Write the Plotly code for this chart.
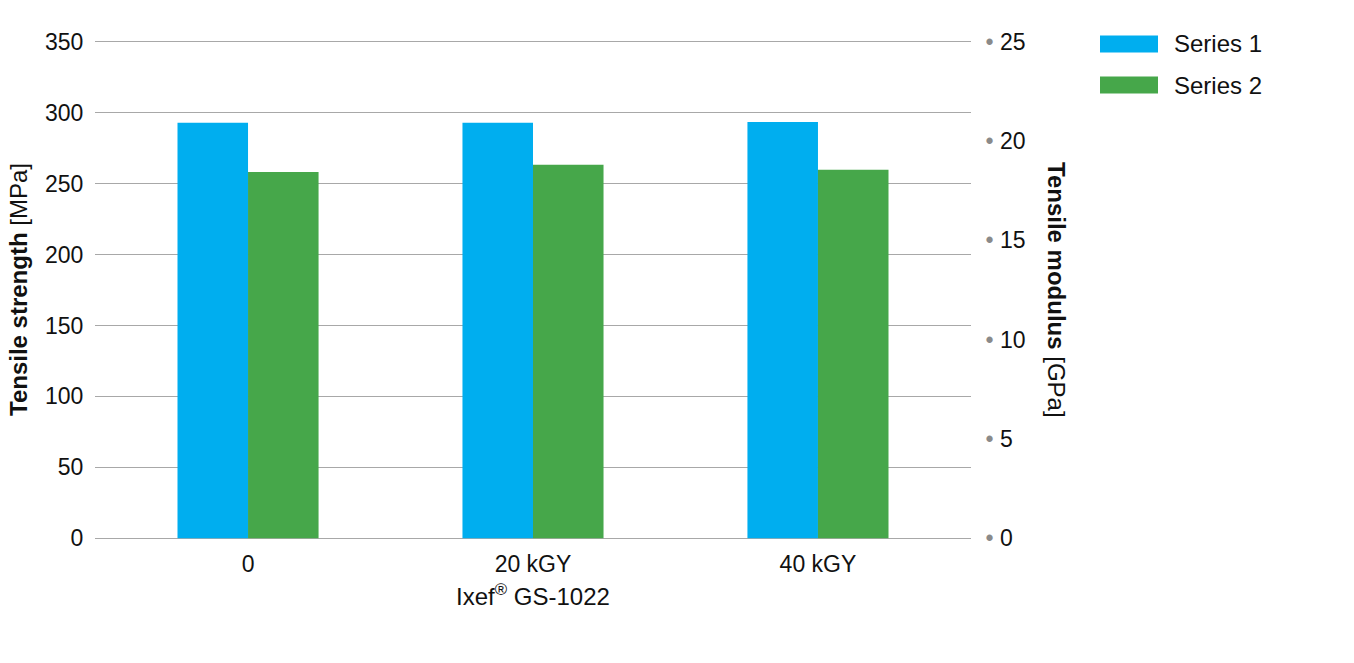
import plotly.graph_objects as go

# Data
categories = ["0", "20 kGY", "40 kGY"]
strength_mpa = [292.9, 292.9, 293.4]   # Series 1, left axis
modulus_gpa = [18.44, 18.81, 18.56]    # Series 2, right axis
series_names = ["Series 1", "Series 2"]
left_ticks = [0, 50, 100, 150, 200, 250, 300, 350]
right_ticks = [0, 5, 10, 15, 20, 25]

colors = ["#00AEEF", "#46A74A"]
font_family = "Liberation Sans, Arial, sans-serif"

# left axis in MPa, right axis in GPa: 350 MPa lines up with 25 GPa
# a little padding so the 0 and 350 grid lines are still drawn
y_range = [-2, 352]
ratio = 25 / 350
y2_range = [v * ratio for v in y_range]

# plot area (page pixels, the page body adds 8px)
plot_top, plot_h = 39, 502
plot_left, plot_w = 95, 876


def px(x):
    return (x - plot_left) / plot_w


def py(y):
    return (plot_top + plot_h - y) / plot_h


fig = go.Figure()
fig.add_trace(go.Bar(x=categories, y=strength_mpa, name=series_names[0],
                     marker_color=colors[0], marker_line_width=0,
                     offsetgroup="1", yaxis="y", showlegend=False))
fig.add_trace(go.Bar(x=categories, y=modulus_gpa, name=series_names[1],
                     marker_color=colors[1], marker_line_width=0,
                     offsetgroup="2", yaxis="y2", showlegend=False))

dot = "<span style='color:#8a8a8a'>•</span> "

fig.update_layout(
    width=1354, height=663,
    margin=dict(l=plot_left - 8, r=1354 - (plot_left - 8) - plot_w,
                t=plot_top - 8, b=663 - (plot_top - 8) - plot_h),
    paper_bgcolor="white", plot_bgcolor="white",
    font=dict(family=font_family, size=22, color="#111"),
    barmode="group", bargap=0.505, bargroupgap=0,
    xaxis=dict(
        range=[-0.537, 2.537], showgrid=False, zeroline=False, showline=False,
        ticks="outside", ticklen=2, tickcolor="rgba(0,0,0,0)",
        tickfont=dict(size=23),
        title=dict(text="Ixef<sup>®</sup> GS-1022", font=dict(size=24), standoff=12),
    ),
    yaxis=dict(
        range=y_range, tickvals=left_ticks, showgrid=True, gridcolor="#a8a8a8",
        gridwidth=1, zeroline=False, showline=False,
        ticks="outside", ticklen=6, tickcolor="rgba(0,0,0,0)",
        tickfont=dict(size=23),
    ),
    yaxis2=dict(
        overlaying="y", side="right", range=y2_range,
        tickvals=right_ticks, ticktext=[dot + str(t) for t in right_ticks],
        showgrid=False, zeroline=False, showline=False,
        ticks="outside", ticklen=9, tickcolor="rgba(0,0,0,0)",
        tickfont=dict(size=23),
    ),
    annotations=[
        dict(text="<b>Tensile strength</b> [MPa]", textangle=-90, xref="paper", yref="paper",
             x=px(18), y=py(290), showarrow=False, font=dict(size=24),
             xanchor="center", yanchor="middle"),
        dict(text="<b>Tensile modulus</b> [GPa]", textangle=90, xref="paper", yref="paper",
             x=px(1057), y=py(290), showarrow=False, font=dict(size=24),
             xanchor="center", yanchor="middle"),
    ],
)

# custom legend with wide swatches
legend_y = [44, 85]
for name, color, ly in zip(series_names, colors, legend_y):
    fig.add_shape(type="rect", xref="paper", yref="paper",
                  x0=px(1100), x1=px(1158),
                  y0=py(ly + 8.5), y1=py(ly - 8.5),
                  fillcolor=color, line_width=0)
    fig.add_annotation(text=name, xref="paper", yref="paper",
                       x=px(1172), y=py(ly), xanchor="left", yanchor="middle",
                       showarrow=False, font=dict(size=24, color="#111"))

fig.write_html("out.html")
